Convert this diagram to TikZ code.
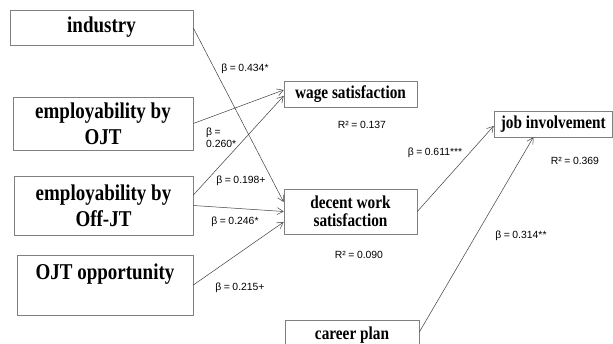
\documentclass[tikz,border=0pt]{standalone}
\usepackage{fontspec}
\setmainfont{Liberation Serif}
\newfontfamily\boxfont[FakeStretch=0.84]{Liberation Serif Bold}
\newfontfamily\labfont{Liberation Sans}
\usetikzlibrary{arrows.meta,calc}
\begin{document}
\begin{tikzpicture}[x=1pt,y=-1pt,
  box/.style={draw=black!50,line width=0.7pt,inner sep=0pt,align=center,font=\boxfont\fontsize{22.6}{26}\selectfont},
  rbox/.style={box,font=\boxfont\fontsize{18.2}{18}\selectfont},
  lab/.style={font=\labfont\fontsize{10.4}{12}\selectfont,inner sep=0pt},
  arr/.style={draw=black!75,line width=0.5pt,-{Straight Barb[length=6pt,width=7pt]}}]
\fill[white] (0,0) rectangle (613,344);
\useasboundingbox (0,0) rectangle (613,344);
% left boxes
\node[box,minimum width=183,minimum height=35] (ind) at (101.5,27.5) {industry};
\node[box,minimum width=180,minimum height=53] (ojt) at (103,123.5) {employability by\\OJT};
\node[box,minimum width=179,minimum height=59] (off) at (103.5,205.5) {employability by\\Off-JT};
\node[box,minimum width=176,minimum height=60] (opp) at (105,285) {OJT opportunity\\\mbox{}};
% right boxes
\node[rbox,minimum width=133,minimum height=26] (wage) at (350.5,94) {wage satisfaction};
\node[rbox,minimum width=133,minimum height=45] (dec) at (350.5,211.5) {decent work\\satisfaction};
\node[rbox,minimum width=118.5,minimum height=26] (job) at (553.25,124) {job involvement};
\node[rbox,minimum width=134,minimum height=30] (car) at (352,335) {career plan};
% arrows
\draw[arr] ($(ind.east)+(0,0.5)$) -- ($(dec.west)+(0,-9.5)$);
\draw[arr] (ojt.east) -- ($(wage.west)+(0,-4)$);
\draw[arr] ($(off.east)+(0,-10.5)$) -- ($(wage.west)+(0,2)$);
\draw[arr] (off.east) -- (dec.west);
\draw[arr] (opp.east) -- ($(dec.west)+(0,10.5)$);
\draw[arr] (dec.east) -- ($(job.west)+(0,2)$);
\draw[arr] ($(car.east)+(0,-3)$) -- ($(job.south)+(-20,0)$);
% labels
\node[lab] (l1) at (245,69) {β\kern2.5pt=\kern2.5pt0.434*};
\node[lab,align=left,anchor=west] (l2) at (206,138) {β\kern2.5pt=\\0.260*};
\node[lab] (l3) at (241,181) {β\kern2.5pt=\kern2.5pt0.198+};
\node[lab] (l4) at (235,222) {β\kern2.5pt=\kern2.5pt0.246*};
\node[lab] (l5) at (240,288) {β\kern2.5pt=\kern2.5pt0.215+};
\node[lab] (l6) at (435,153) {β\kern2.5pt=\kern2.5pt0.611***};
\node[lab] (l7) at (521,236) {β\kern2.5pt=\kern2.5pt0.314**};
\node[lab] (r1) at (362,125) {R²\kern2.5pt=\kern2.5pt0.137};
\node[lab] (r2) at (359,255) {R²\kern2.5pt=\kern2.5pt0.090};
\node[lab] (r3) at (575,161) {R²\kern2.5pt=\kern2.5pt0.369};
\end{tikzpicture}
\end{document}
